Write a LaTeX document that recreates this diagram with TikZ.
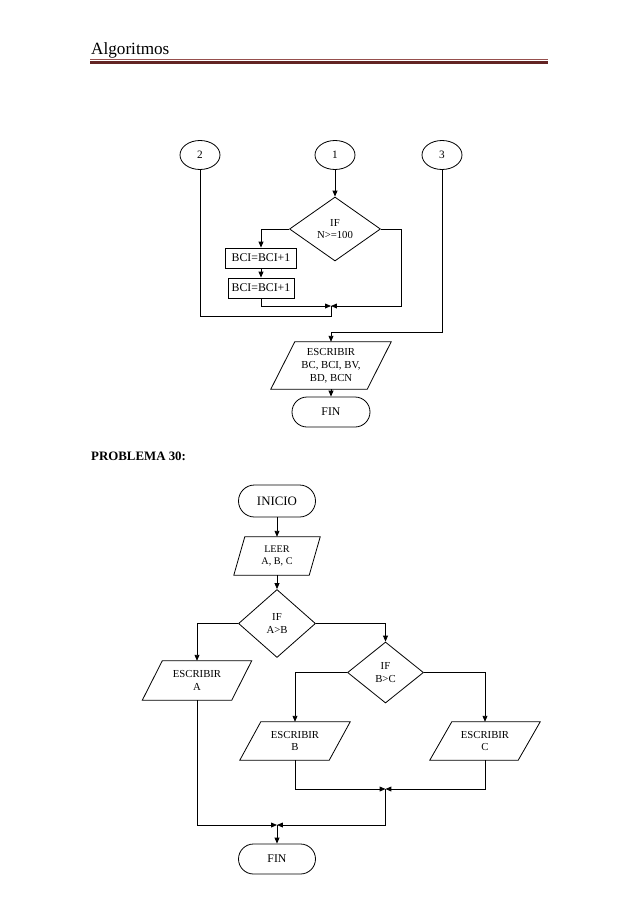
\documentclass[tikz,border=0pt]{standalone}
\usepackage{fontspec}
\setmainfont{Liberation Serif}
\usetikzlibrary{shapes.geometric,shapes.misc,arrows.meta,calc}
\newcommand\px[1]{#1*0.9325pt}
\newcommand\ioshape[2]{\draw[line] ([xshift=\px{#2}]#1.north west) -- ([xshift=\px{#2}]#1.north east) -- ([xshift=-\px{#2}]#1.south east) -- ([xshift=-\px{#2}]#1.south west) -- cycle;}
\definecolor{hdr}{RGB}{99,36,35}
\definecolor{hdrlight}{RGB}{150,80,78}
\begin{document}
\begin{tikzpicture}[x=0.9325pt,y=-0.9325pt,
  line/.style={line width=0.75pt},
  arr/.style={line,-{Triangle[length=5.5pt,width=4.5pt]}},
  txt/.style={font=\fontsize{10}{12}\selectfont,align=center},
  circ/.style={draw,line,ellipse,minimum width=\px{40},minimum height=\px{29},inner sep=0pt,txt,font=\fontsize{10.5}{12}\selectfont},
  dec/.style={draw,line,diamond,inner sep=0pt,txt},
  proc/.style={draw,line,rectangle,inner sep=0pt,minimum height=\px{20},txt,font=\fontsize{11}{13}\selectfont},
  term/.style={draw,line,rounded rectangle,inner sep=0pt,txt},
  io/.style={inner sep=0pt,txt}]
\useasboundingbox[fill=white] (0,0) rectangle (638,903);
% header
\node[anchor=base west,inner sep=0pt,font=\fontsize{16}{18}\selectfont] (hd) at (91,54) {Algoritmos};
\draw[hdrlight,line width=0.6pt] (90,59.3) -- (548,59.3);
\draw[hdr,line width=2.4pt] (90,62.3) -- (548,62.3);
% ---------- part 1 ----------
\node[circ] (c2) at (200,155) {2};
\node[circ] (c1) at (335,155) {1};
\node[circ] (c3) at (442,155) {3};
\node[dec,minimum width=\px{91},minimum height=\px{64}] (d1) at (335,229) {IF\\N>=100};
\node[proc,minimum width=\px{71}] (b1) at (261,258) {BCI=BCI+1};
\node[proc,minimum width=\px{66}] (b2) at (261,288) {BCI=BCI+1};
\node[io,minimum width=\px{96},minimum height=\px{47}] (p1) at (331,365.5) {ESCRIBIR\\BC, BCI, BV,\\BD, BCN};
\ioshape{p1}{12}
\node[term,minimum width=\px{78},minimum height=\px{30},font=\fontsize{11}{13}\selectfont] (f1) at (331,412) {FIN};
\coordinate (m1) at (331,306);
\coordinate (r1) at (401,306);
\coordinate (l2) at (331,316);
\coordinate (k3) at (331,332);
\draw[arr] (c1.south) -- (d1.north);
\draw[arr] (d1.west) -| (b1.north);
\draw[arr] (b1.south) -- (b2.north);
\draw[arr] (b2.south) |- (m1);
\draw[arr] (d1.east) -| (r1) -- (m1);
\draw[line] (c2.south) |- (l2) -- (m1);
\draw[arr] (c3.south) |- (k3) -- (p1.north);
\draw[arr] (p1.south) -- (f1.north);
% ---------- part 2 ----------
\node[anchor=base west,inner sep=0pt,font=\fontsize{12}{14}\selectfont\bfseries] (pr) at (91,460) {PROBLEMA 30:};
\node[term,minimum width=\px{77},minimum height=\px{32},font=\fontsize{12}{14}\selectfont] (i2) at (277,501) {INICIO};
\node[io,minimum width=\px{75},minimum height=\px{38},font=\fontsize{9.5}{12}\selectfont] (le) at (277,556) {LEER\\A, B, C};
\ioshape{le}{5.5}
\node[dec,minimum width=\px{77},minimum height=\px{68}] (d2) at (277,623.5) {IF\\A>B};
\node[io,minimum width=\px{89},minimum height=\px{39}] (ea) at (197,680.5) {ESCRIBIR\\A};
\ioshape{ea}{10}
\node[dec,minimum width=\px{76},minimum height=\px{61}] (d3) at (385.5,672.5) {IF\\B>C};
\node[io,minimum width=\px{89},minimum height=\px{38}] (eb) at (295,741) {ESCRIBIR\\B};
\ioshape{eb}{10.5}
\node[io,minimum width=\px{88},minimum height=\px{38}] (ec) at (485,741) {ESCRIBIR\\C};
\ioshape{ec}{11}
\node[term,minimum width=\px{77},minimum height=\px{30},font=\fontsize{11}{13}\selectfont] (f2) at (277,859) {FIN};
\coordinate (m2) at (385.5,789);
\coordinate (m3) at (277,825);
\draw[arr] (i2.south) -- (le.north);
\draw[arr] (le.south) -- (d2.north);
\draw[arr] (d2.west) -| (ea.north);
\draw[arr] (d2.east) -| (d3.north);
\draw[arr] (d3.west) -| (eb.north);
\draw[arr] (d3.east) -| (ec.north);
\draw[arr] (eb.south) |- (m2);
\draw[arr] (ec.south) |- (m2);
\draw[arr] (m2) |- (m3);
\draw[arr] (ea.south) |- (m3);
\draw[arr] (m3) -- (f2.north);
\end{tikzpicture}
\end{document}
